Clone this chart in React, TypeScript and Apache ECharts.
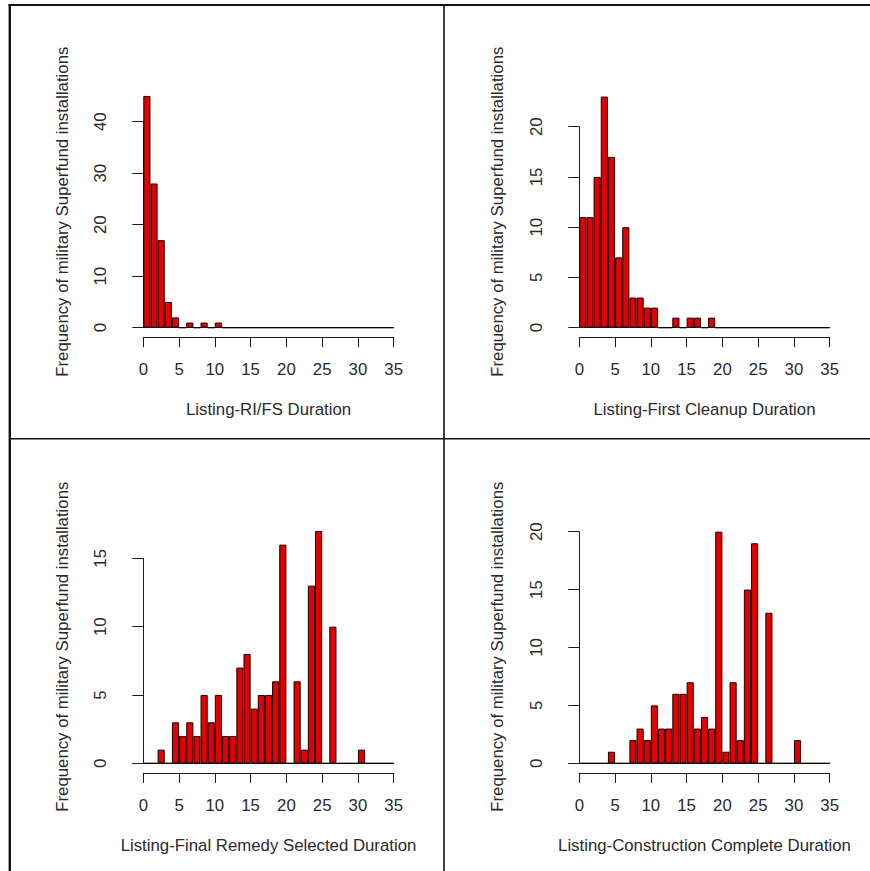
import React, { useEffect, useRef } from "react";
import * as echarts from "echarts";

// ---- data (histogram counts, bins of width 1 year from 0 to 35) ----
const binLabels: string[] = Array.from({ length: 35 }, (_, i) => `${i}-${i + 1}`);
const xTicks = [0, 5, 10, 15, 20, 25, 30, 35];

const rifsCounts = [45, 28, 17, 5, 2, 0, 1, 0, 1, 0, 1, 0, 0, 0, 0, 0, 0, 0, 0, 0, 0, 0, 0, 0, 0, 0, 0, 0, 0, 0, 0, 0, 0, 0, 0];
const firstCleanupCounts = [11, 11, 15, 23, 17, 7, 10, 3, 3, 2, 2, 0, 0, 1, 0, 1, 1, 0, 1, 0, 0, 0, 0, 0, 0, 0, 0, 0, 0, 0, 0, 0, 0, 0, 0];
const finalRemedyCounts = [0, 0, 1, 0, 3, 2, 3, 2, 5, 3, 5, 2, 2, 7, 8, 4, 5, 5, 6, 16, 0, 6, 1, 13, 17, 0, 10, 0, 0, 0, 1, 0, 0, 0, 0];
const constructionCounts = [0, 0, 0, 0, 1, 0, 0, 2, 3, 2, 5, 3, 3, 6, 6, 7, 3, 4, 3, 20, 1, 7, 2, 15, 19, 0, 13, 0, 0, 0, 2, 0, 0, 0, 0];

const xTitles = [
  "Listing-RI/FS Duration",
  "Listing-First Cleanup Duration",
  "Listing-Final Remedy Selected Duration",
  "Listing-Construction Complete Duration",
];
const yTitle = "Frequency of military Superfund installations";
const yAxisMax = [40, 20, 15, 20];
const yAxisStep = [10, 5, 5, 5];

// ---- layout (pixels) ----
const layout = [
  { left: 143.3, top: 121.7, bottom0: 327.7, cx: 268.5, tx: 62.3, ty: 211.7, xt: 409.3 },
  { left: 579.3, top: 126.7, bottom0: 327.7, cx: 704.5, tx: 497.3, ty: 211.7, xt: 409.3 },
  { left: 143.3, top: 558.3, bottom0: 763.3, cx: 268.5, tx: 62.3, ty: 646.7, xt: 845 },
  { left: 579.3, top: 531.7, bottom0: 763.3, cx: 704.5, tx: 497.3, ty: 646.7, xt: 845 },
];
const PLOT_W = 250.4;

const FONT = '"Liberation Sans", Arial, Helvetica, sans-serif';
const FS = 16.8;
const TEXT = "#2a2a2a";
const AXIS = "#1c1c1c";
const FILL = "#e20000";

export default function App() {
  const ref = useRef<HTMLDivElement>(null);

  useEffect(() => {
    if (!ref.current) return;
    const chart = echarts.init(ref.current, undefined, { renderer: "svg" });
    const seriesData = [rifsCounts, firstCleanupCounts, finalRemedyCounts, constructionCounts];

    const grid: any[] = [];
    const xAxis: any[] = [];
    const yAxis: any[] = [];
    const series: any[] = [];
    const graphic: any[] = [];

    layout.forEach((p, i) => {
      grid.push({
        left: p.left,
        top: p.top,
        width: PLOT_W,
        height: p.bottom0 - p.top,
        containLabel: false,
      });
      // baseline (category axis of bins)
      xAxis.push({
        type: "category",
        gridIndex: i,
        data: binLabels,
        boundaryGap: true,
        axisLine: { show: true, lineStyle: { color: AXIS, width: 1 } },
        axisTick: { show: false },
        axisLabel: { show: false },
        splitLine: { show: false },
      });
      // visible numeric axis, offset below
      xAxis.push({
        type: "value",
        gridIndex: i,
        min: xTicks[0],
        max: xTicks[xTicks.length - 1],
        interval: 5,
        position: "bottom",
        offset: 9.6,
        axisLine: { show: true, lineStyle: { color: AXIS, width: 1 } },
        axisTick: { show: true, length: 10, inside: false, lineStyle: { color: AXIS, width: 1 } },
        axisLabel: { show: true, margin: 24, color: TEXT, fontFamily: FONT, fontSize: FS },
        splitLine: { show: false },
      });
      yAxis.push({
        type: "value",
        gridIndex: i,
        min: 0,
        max: yAxisMax[i],
        interval: yAxisStep[i],
        position: "left",
        offset: 10.5,
        axisLine: { show: true, lineStyle: { color: AXIS, width: 1 } },
        axisTick: { show: true, length: 11, inside: false, lineStyle: { color: AXIS, width: 1 } },
        axisLabel: { show: true, rotate: 90, margin: 24, color: TEXT, fontFamily: FONT, fontSize: FS },
        splitLine: { show: false },
      });
      series.push({
        type: "bar",
        xAxisIndex: 2 * i,
        yAxisIndex: i,
        data: seriesData[i],
        barCategoryGap: "0%",
        barGap: "0%",
        clip: false,
        itemStyle: { color: FILL, borderColor: "#1a0000", borderWidth: 1 },
        emphasis: { disabled: true },
      });
      graphic.push({
        type: "text",
        x: p.cx,
        y: p.xt,
        style: { text: xTitles[i], font: `${FS}px ${FONT}`, fill: TEXT, align: "center", verticalAlign: "middle" },
      });
      graphic.push({
        type: "text",
        x: p.tx,
        y: p.ty,
        rotation: Math.PI / 2,
        style: { text: yTitle, font: `${FS}px ${FONT}`, fill: TEXT, align: "center", verticalAlign: "middle" },
      });
    });

    // frame lines
    const lineStyle = { stroke: "#111", lineWidth: 2 };
    graphic.push({ type: "line", shape: { x1: 8.5, y1: 5, x2: 870, y2: 5 }, style: lineStyle });
    graphic.push({ type: "line", shape: { x1: 9.8, y1: 4, x2: 9.8, y2: 871 }, style: { stroke: "#111", lineWidth: 2.4 } });
    graphic.push({ type: "line", shape: { x1: 444, y1: 5, x2: 444, y2: 871 }, style: { stroke: "#111", lineWidth: 1.6 } });
    graphic.push({ type: "line", shape: { x1: 10, y1: 438.7, x2: 870, y2: 438.7 }, style: { stroke: "#111", lineWidth: 1.6 } });

    chart.setOption({
      animation: false,
      backgroundColor: "#ffffff",
      grid,
      xAxis,
      yAxis,
      series,
      graphic,
    });
    return () => chart.dispose();
  }, []);

  return (
    <div
      ref={ref}
      style={{ position: "fixed", left: 0, top: 0, width: 870, height: 871, background: "#fff" }}
    />
  );
}
